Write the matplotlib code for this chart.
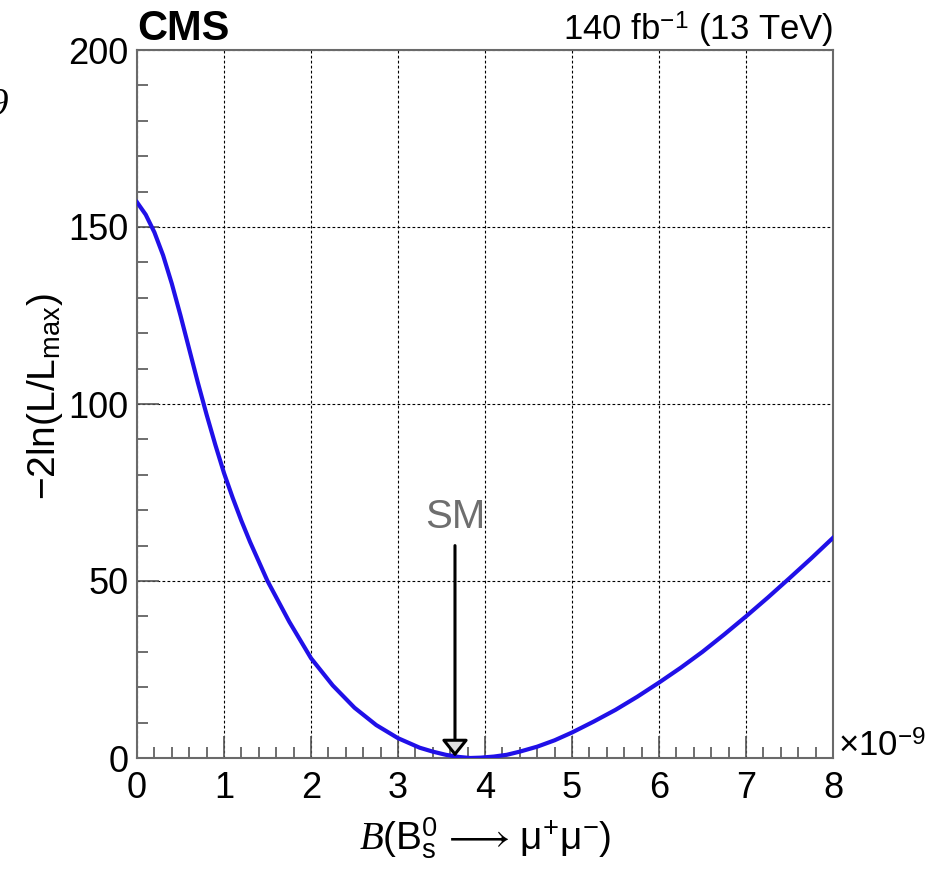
import matplotlib
matplotlib.use("Agg")
import matplotlib.pyplot as plt
import numpy as np

# profile likelihood scan (x in units of 1e-9)
bf = [0, 0.1, 0.2, 0.3, 0.4, 0.5, 0.6, 0.7, 0.8, 0.9, 1.0, 1.1, 1.2, 1.3, 1.4, 1.5,
      1.75, 2.0, 2.25, 2.5, 2.75, 3.0, 3.25, 3.4, 3.55, 3.7, 3.83, 3.95,
      4.1, 4.25, 4.4, 4.6, 4.8, 5.0, 5.25, 5.5, 5.75, 6.0, 6.25, 6.5, 6.75,
      7.0, 7.25, 7.5, 7.75, 8.0]
nll = [157, 153.5, 148.5, 142, 134, 125, 115.5, 106, 97, 88.5, 80.5, 73.5, 67, 61, 55.5, 50,
       38.5, 28.2, 20.5, 14.2, 9.3, 5.6, 2.9, 1.8, 0.9, 0.3, 0.0, 0.1,
       0.4, 0.9, 1.8, 3.2, 5.0, 7.2, 10.3, 13.6, 17.3, 21.3, 25.5, 30.0, 34.9,
       40.0, 45.3, 50.8, 56.4, 62.2]

sm_value = 3.655
sm_arrow_top = 60
x_ticks = [0, 1, 2, 3, 4, 5, 6, 7, 8]
y_ticks = [0, 50, 100, 150, 200]

plt.rcParams['font.family'] = ['Liberation Sans', 'DejaVu Sans']
plt.rcParams['mathtext.fontset'] = 'custom'
plt.rcParams['mathtext.rm'] = 'Liberation Sans'
plt.rcParams['mathtext.it'] = 'Liberation Serif:italic'
plt.rcParams['mathtext.bf'] = 'Liberation Sans:bold'

W, H = 945, 869
fig = plt.figure(figsize=(W / 100, H / 100), dpi=100)
ax = fig.add_axes([137 / W, 1 - 758 / H, (833 - 137) / W, (758 - 50) / H])

ax.plot(bf, nll, color='#2010e8', lw=3.0, zorder=3, solid_joinstyle='round')

ax.set_xlim(0, 8)
ax.set_ylim(0, 200)
ax.set_xticks(x_ticks)
ax.set_yticks(y_ticks)
ax.set_xticks(np.arange(0, 8.01, 0.2), minor=True)
ax.set_yticks(np.arange(0, 200.1, 10), minor=True)
ax.set_xticklabels([str(t) for t in x_ticks])
ax.set_yticklabels([str(t) for t in y_ticks])

ax.grid(True, which='major', color='black', lw=0.8, ls=(0, (2.5, 2)))
ax.tick_params(which='both', direction='in', colors='#555555', labelcolor='black',
               labelsize=26, top=False, right=False)
ax.tick_params(which='major', length=15.5, width=1.2)
ax.tick_params(which='minor', length=8, width=1.2)
ax.tick_params(axis='x', pad=9)
ax.tick_params(axis='y', pad=6)
for s in ax.spines.values():
    s.set_color('#6a6a6a')
    s.set_linewidth(1.5)

# SM arrow
ax.annotate('', xy=(sm_value, 0.4), xytext=(sm_value, sm_arrow_top),
            arrowprops=dict(arrowstyle='-|>,head_length=0.5,head_width=0.4',
                            mutation_scale=20, fc='#e0e0e0', ec='black', lw=2.2,
                            shrinkA=0, shrinkB=0), zorder=4)
ax.text(sm_value, 68, 'SM', color='#6e6e6e', fontsize=29, ha='center', va='center')

# labels
fig.text(45 / W, 1 - 397 / H, r'$-$2ln(L/L$_{\mathrm{max}}$)', rotation=90,
         fontsize=28, ha='center', va='center')
fig.text(485 / W, 1 - 838 / H,
         r'$\mathit{B}(\mathrm{B}_{\mathrm{s}}^{0}\,\longrightarrow\,\mathrm{\mu}^{+}\mathrm{\mu}^{-})$',
         fontsize=28, ha='center', va='center')
fig.text(838 / W, 1 - 757 / H, r'$\times$10$^{-9}$', fontsize=25, ha='left', va='baseline')

fig.text(137 / W, 1 - 40 / H, 'CMS', fontsize=30, weight='bold', ha='left', va='baseline')
fig.text(833 / W, 1 - 41 / H, r'140 fb$^{-1}$ (13 TeV)', fontsize=25, ha='right', va='baseline')

# leftover glyph at the left edge of the picture
fig.text(8.5 / W, 1 - 115 / H, '9', fontsize=28, family='Liberation Serif',
         style='italic', ha='right', va='baseline')

fig.savefig('out.png', dpi=100)
